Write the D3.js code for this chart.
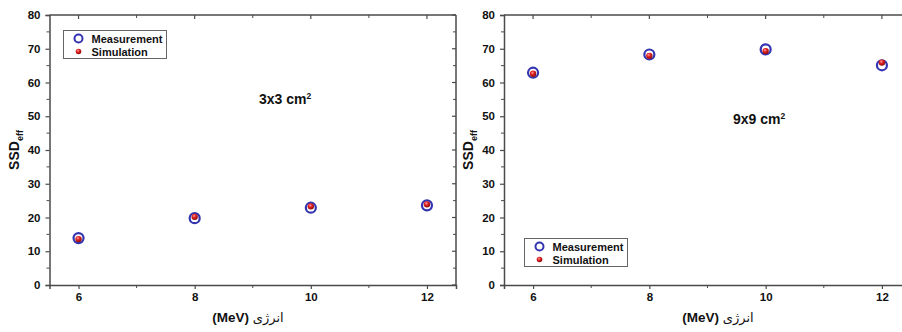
<!DOCTYPE html>
<html>
<head>
<meta charset="utf-8">
<script src="https://cdn.jsdelivr.net/npm/d3@7"></script>
<style>
  body { margin: 0; background: #fff; }
  svg text { font-family: "Liberation Sans", Arial, "DejaVu Sans", sans-serif; font-weight: bold; fill: #111; }
</style>
</head>
<body>
<div id="chart"></div>
<script>
// data
const energies = [6, 8, 10, 12];
const xTicks = [6, 8, 10, 12];
const yTicks = [0, 10, 20, 30, 40, 50, 60, 70, 80];

const measure3x3 = [13.9, 19.8, 22.9, 23.6];
const simul3x3 = [13.6, 20.2, 23.3, 23.9];
const measure9x9 = [62.9, 68.3, 69.8, 65.1];
const simul9x9 = [62.6, 67.9, 69.3, 65.9];

const seriesNames = ['Measurement', 'Simulation'];
const fieldLabels = ['3x3 cm', '9x9 cm'];

const W = 902, H = 332;
const svg = d3.select('#chart').append('svg')
    .attr('width', W).attr('height', H);

// sphere-like fill for simulation points
const defs = svg.append('defs');
const grad = defs.append('radialGradient').attr('id', 'ball')
    .attr('cx', '40%').attr('cy', '35%').attr('r', '65%');
grad.append('stop').attr('offset', '0%').attr('stop-color', '#ff9a9a');
grad.append('stop').attr('offset', '45%').attr('stop-color', '#e02020');
grad.append('stop').attr('offset', '100%').attr('stop-color', '#8a0c0c');

const frameColor = '#4a4a4a';
const blue = '#3434b0';

function drawPanel(opt) {
    const x = d3.scaleLinear().domain([5.5, 12.5]).range([opt.left, opt.right]);
    const y = d3.scaleLinear().domain([0, 80]).range([285, 15]);
    const g = svg.append('g');

    // minor ticks
    const xMinor = d3.range(6, 13, 1);
    const yMinor = d3.range(0, 81, 5);

    // bottom axis (outward)
    const bottom = g.append('g').attr('transform', 'translate(0,285)')
        .call(d3.axisBottom(x).tickValues(xTicks).tickSize(4).tickPadding(4).tickFormat(d3.format('d')));
    bottom.selectAll('text').attr('font-size', 11.5).style('fill', '#111');
    g.append('g').selectAll('line').data(xMinor.filter(v => !xTicks.includes(v))).join('line')
        .attr('x1', d => x(d)).attr('x2', d => x(d)).attr('y1', 285).attr('y2', 288)
        .attr('stroke', frameColor);

    // left axis (outward)
    const left = g.append('g').attr('transform', `translate(${opt.left},0)`)
        .call(d3.axisLeft(y).tickValues(yTicks).tickSize(4).tickPadding(5));
    left.selectAll('text').attr('font-size', 11.5).style('fill', '#111');
    g.append('g').selectAll('line').data(yMinor.filter(v => !yTicks.includes(v))).join('line')
        .attr('x1', opt.left - 3).attr('x2', opt.left).attr('y1', d => y(d)).attr('y2', d => y(d))
        .attr('stroke', frameColor);

    [bottom, left].forEach(a => {
        a.select('.domain').attr('stroke', frameColor).attr('stroke-width', 1.5);
        a.selectAll('.tick line').attr('stroke', frameColor).attr('stroke-width', 1.2);
    });

    // top and right frame with inward ticks
    g.append('line').attr('x1', opt.left).attr('x2', opt.right).attr('y1', 15).attr('y2', 15)
        .attr('stroke', frameColor).attr('stroke-width', 1.5);
    g.append('line').attr('x1', opt.right).attr('x2', opt.right).attr('y1', 15).attr('y2', 285)
        .attr('stroke', frameColor).attr('stroke-width', 1.5);
    g.append('g').selectAll('line').data(xTicks).join('line')
        .attr('x1', d => x(d)).attr('x2', d => x(d)).attr('y1', 15).attr('y2', 19)
        .attr('stroke', frameColor).attr('stroke-width', 1.2);
    g.append('g').selectAll('line').data(xMinor.filter(v => !xTicks.includes(v))).join('line')
        .attr('x1', d => x(d)).attr('x2', d => x(d)).attr('y1', 15).attr('y2', 18)
        .attr('stroke', frameColor);
    g.append('g').selectAll('line').data(yTicks).join('line')
        .attr('x1', opt.right - 4).attr('x2', opt.right).attr('y1', d => y(d)).attr('y2', d => y(d))
        .attr('stroke', frameColor).attr('stroke-width', 1.2);
    g.append('g').selectAll('line').data(yMinor.filter(v => !yTicks.includes(v))).join('line')
        .attr('x1', opt.right - 3).attr('x2', opt.right).attr('y1', d => y(d)).attr('y2', d => y(d))
        .attr('stroke', frameColor);

    // points
    g.append('g').selectAll('circle').data(energies).join('circle')
        .attr('cx', d => x(d)).attr('cy', (d, i) => y(opt.measure[i]))
        .attr('r', 5).attr('fill', 'none').attr('stroke', blue).attr('stroke-width', 2.2);
    g.append('g').selectAll('circle').data(energies).join('circle')
        .attr('cx', d => x(d)).attr('cy', (d, i) => y(opt.simul[i]))
        .attr('r', 3.2).attr('fill', 'url(#ball)');

    // axis titles
    const yl = g.append('text')
        .attr('transform', `translate(${opt.ylabelX},150) rotate(-90)`)
        .attr('text-anchor', 'middle').attr('font-size', 14);
    yl.append('tspan').text('SSD');
    yl.append('tspan').attr('font-size', 9).attr('dy', 4).text('eff');

    const xl = g.append('text').attr('x', opt.xlabelX).attr('y', 322)
        .attr('text-anchor', 'middle').attr('font-size', 13.5);
    xl.append('tspan').text('(MeV) ');
    xl.append('tspan').attr('font-family', '"DejaVu Sans", sans-serif')
        .style('font-weight', 'normal').attr('font-size', 13).text('انرژی');

    // field size annotation
    const ann = g.append('text').attr('x', opt.annX).attr('y', opt.annY).attr('font-size', 14);
    ann.append('tspan').text(opt.field);
    ann.append('tspan').attr('font-size', 8.5).attr('dy', -5).text('2');

    // legend
    const lg = g.append('g').attr('transform', `translate(${opt.legX},${opt.legY})`);
    lg.append('rect').attr('width', 103).attr('height', 28)
        .attr('fill', '#fff').attr('stroke', '#666').attr('stroke-width', 1);
    lg.append('circle').attr('cx', 15).attr('cy', 8).attr('r', 4)
        .attr('fill', 'none').attr('stroke', blue).attr('stroke-width', 2);
    lg.append('circle').attr('cx', 15).attr('cy', 21).attr('r', 2.8).attr('fill', 'url(#ball)');
    lg.selectAll('text.lab').data(seriesNames).join('text').attr('class', 'lab')
        .attr('x', 28).attr('y', (d, i) => 12 + i * 13).attr('font-size', 11).text(d => d);
}

drawPanel({
    left: 49.5, right: 456, measure: measure3x3, simul: simul3x3,
    ylabelX: 19, xlabelX: 248, field: fieldLabels[0], annX: 259, annY: 104,
    legX: 63.5, legY: 30.5
});
drawPanel({
    left: 504, right: 911, measure: measure9x9, simul: simul9x9,
    ylabelX: 473, xlabelX: 718, field: fieldLabels[1], annX: 733, annY: 124,
    legX: 524.5, legY: 238.5
});
</script>
</body>
</html>
